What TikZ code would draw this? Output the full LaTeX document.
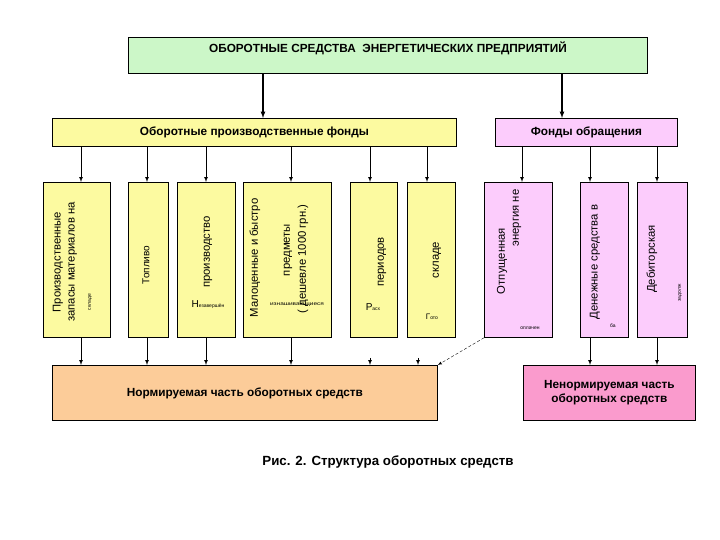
\documentclass[tikz,border=0pt]{standalone}
\usepackage{fontspec}
\setmainfont{Liberation Sans}
\usepackage{graphicx}
\usetikzlibrary{arrows,positioning,calc}

\definecolor{topgreen}{RGB}{204,247,200}
\definecolor{fundyellow}{RGB}{252,250,160}
\definecolor{circpink}{RGB}{252,204,252}
\definecolor{normorange}{RGB}{252,204,153}
\definecolor{freepink}{RGB}{250,155,205}

\begin{document}
\begin{tikzpicture}[x=1pt, y=-1pt,
    block/.style={rectangle, draw, anchor=north west, inner sep=0pt, line width=0.8pt},
    btext/.style={font=\bfseries\fontsize{11.8}{14}\selectfont},
    vtext/.style={rotate=90, font=\fontsize{11.3}{14}\selectfont, inner sep=0pt},
    htiny/.style={font=\tiny, inner sep=0pt},
    line/.style={draw, -latex, line width=0.7pt},
    thickline/.style={draw, -latex, line width=1.2pt}
]
\useasboundingbox (0,0) rectangle (720,540);

% top level
\node [block, fill=topgreen, minimum width=519pt, minimum height=36pt] (main) at (128,37) {};
\node [btext] (maintext) at (388,48) {ОБОРОТНЫЕ СРЕДСТВА\ \ ЭНЕРГЕТИЧЕСКИХ ПРЕДПРИЯТИЙ};

\node [block, btext, fill=fundyellow, minimum width=404pt, minimum height=28pt] (prod) at (52,118) {Оборотные производственные фонды};
\node [block, btext, fill=circpink, minimum width=182pt, minimum height=28pt] (circ) at (495,118) {Фонды обращения};

% second row
\node [block, fill=fundyellow, minimum width=67pt, minimum height=155pt] (b1) at (43,182) {};
\node [block, fill=fundyellow, minimum width=40pt, minimum height=155pt] (b2) at (128,182) {};
\node [block, fill=fundyellow, minimum width=58pt, minimum height=155pt] (b3) at (177,182) {};
\node [block, fill=fundyellow, minimum width=88pt, minimum height=155pt] (b4) at (243,182) {};
\node [block, fill=fundyellow, minimum width=47pt, minimum height=155pt] (b5) at (350,182) {};
\node [block, fill=fundyellow, minimum width=48pt, minimum height=155pt] (b6) at (407,182) {};
\node [block, fill=circpink, minimum width=68pt, minimum height=155pt] (b7) at (484,182) {};
\node [block, fill=circpink, minimum width=48pt, minimum height=155pt] (b8) at (580,182) {};
\node [block, fill=circpink, minimum width=50pt, minimum height=155pt] (b9) at (637,182) {};

% texts of the second row
\node [vtext, align=center] (t1) at (65,262) {Производственные\\запасы материалов на};
\node [vtext, font=\fontsize{5}{5}\selectfont] (t1b) at (90,302) {складе};
\node [vtext, font=\fontsize{10}{12}\selectfont] (t2) at (146,265) {Топливо};
\node [vtext] (t3) at (208,252) {производство};
\node [htiny] (t3b) at (208,305) {{\fontsize{10}{12}\selectfont Н}езавершён};
\node [vtext] (t4a) at (255,258) {Малоценные и быстро};
\node [vtext] (t4b) at (288,250) {предметы};
\node [vtext] (t4c) at (303,259) {( дешевле 1000 грн.)};
\node [htiny] (t4d) at (297,305) {\scalebox{1.3}[1]{изнашивающиеся}};
\node [vtext] (t5) at (382,262) {периодов};
\node [htiny] (t5b) at (373,307) {{\fontsize{10}{12}\selectfont Р}асх};
\node [vtext] (t6) at (437,260) {складе};
\node [htiny] (t6b) at (432,317) {{\fontsize{8}{10}\selectfont Г}ото};
\node [vtext] (t7a) at (502,261) {Отпущенная};
\node [vtext] (t7b) at (517,218) {энергия не};
\node [htiny] (t7c) at (530,328) {оплачен};
\node [vtext] (t8) at (595,262) {Денежные средства в};
\node [htiny] (t8b) at (613,326) {ба};
\node [vtext] (t9) at (652,259) {Дебиторская};
\node [vtext, font=\fontsize{5}{5}\selectfont] (t9b) at (680,293) {задолж};

% bottom row
\node [block, btext, fill=normorange, minimum width=385pt, minimum height=55pt] (norm) at (52,365) {Нормируемая часть оборотных средств};
\node [block, btext, fill=freepink, minimum width=172pt, minimum height=55pt, align=center] (free) at (523,365) {Ненормируемая часть\\оборотных средств};

\node [font=\bfseries\fontsize{13.3}{15}\selectfont] (caption) at (388,462) {Рис. 2. Структура оборотных средств};

% columns of the connectors
\coordinate (c1) at (81,0);
\coordinate (c2) at (147,0);
\coordinate (c3) at (206,0);
\coordinate (c4) at (291,0);
\coordinate (c5) at (370,0);
\coordinate (c6) at (418,0);
\coordinate (c6t) at (427,0);
\coordinate (c7) at (522,0);
\coordinate (c8) at (590,0);
\coordinate (c9) at (657,0);
\coordinate (ca) at (263,0);
\coordinate (cb) at (562,0);

\path [thickline] (main.south -| ca) -- (prod.north -| ca);
\path [thickline] (main.south -| cb) -- (circ.north -| cb);

\path [line] (prod.south -| c1) -- (b1.north -| c1);
\path [line] (prod.south -| c2) -- (b2.north -| c2);
\path [line] (prod.south -| c3) -- (b3.north -| c3);
\path [line] (prod.south -| c4) -- (b4.north -| c4);
\path [line] (prod.south -| c5) -- (b5.north -| c5);
\path [line] (prod.south -| c6t) -- (b6.north -| c6t);
\path [line] (circ.south -| c7) -- (b7.north -| c7);
\path [line] (circ.south -| c8) -- (b8.north -| c8);
\path [line] (circ.south -| c9) -- (b9.north -| c9);

\path [line] (b1.south -| c1) -- (norm.north -| c1);
\path [line] (b2.south -| c2) -- (norm.north -| c2);
\path [line] (b3.south -| c3) -- (norm.north -| c3);
\path [line] (b4.south -| c4) -- (norm.north -| c4);
\path [line, shorten <=20pt] (b5.south -| c5) -- (norm.north -| c5);
\path [line, shorten <=20pt] (b6.south -| c6) -- (norm.north -| c6);
\path [draw, -latex, thin, densely dashed] (b7.south west) -- (norm.north east);
\path [line] (b8.south -| c8) -- (free.north -| c8);
\path [line] (b9.south -| c9) -- (free.north -| c9);

\end{tikzpicture}
\end{document}
